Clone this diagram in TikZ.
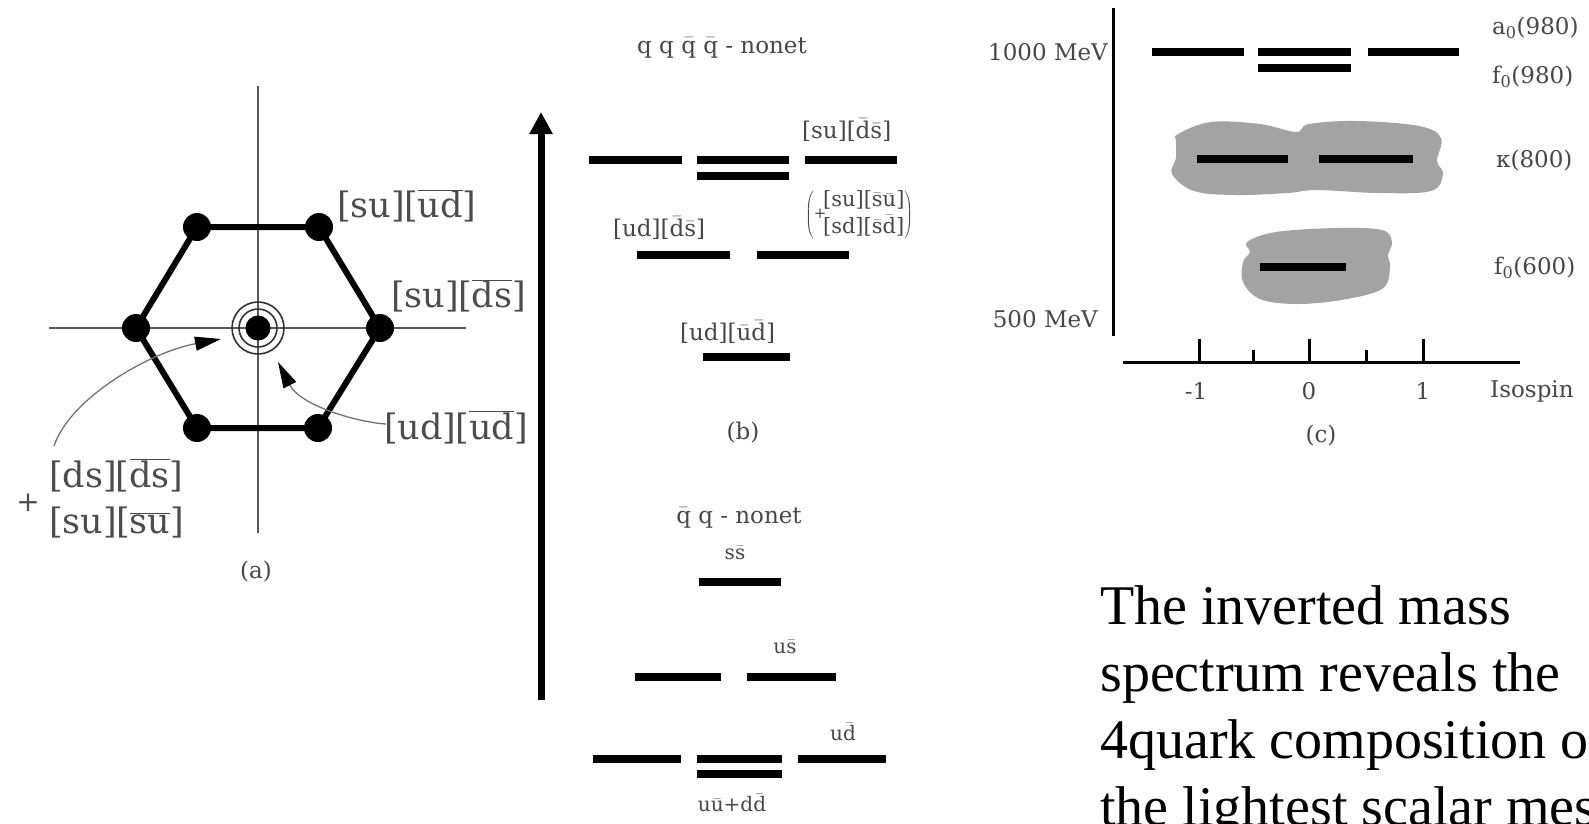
\documentclass[tikz,border=0pt]{standalone}
\usepackage{fontspec}
\setmainfont{DejaVu Serif}
\newfontfamily\tnrfont{Liberation Serif}
\usetikzlibrary{arrows.meta}
\newcommand\barl[1]{\ensuremath{\bar{\mbox{#1}}}}
\newcommand\ovl[1]{\ensuremath{\overline{\mbox{#1}}}}
\begin{document}
\begin{tikzpicture}[x=1pt,y=-1pt,
  axisline/.style={line width=1.8pt, black!65},
  hexline/.style={line width=6pt, black},
  dot/.style={circle, fill=black, minimum size=28pt, inner sep=0pt},
  ring/.style={line width=1.6pt, black!80},
  thinarrow/.style={line width=1.3pt, black!55, -{Triangle[length=26pt,width=14pt,color=black]}},
  biglab/.style={font=\fontsize{35}{38}\selectfont, text=black!70, inner sep=0pt},
  lab/.style={font=\fontsize{23}{26}\selectfont, text=black!72, inner sep=0pt},
  smalllab/.style={font=\fontsize{20}{22}\selectfont, text=black!72, inner sep=0pt},
  lvl/.style={line width=8pt, black},
  blob/.style={fill=black!36, draw=none},
  caxis/.style={line width=3pt, black},
  slide/.style={font=\tnrfont\fontsize{56}{60}\selectfont, text=black, inner sep=0pt, anchor=base west}]
\useasboundingbox (0,0) rectangle (1589,823);

% ---------------- panel (a) ----------------
\coordinate (axT) at (258,86);
\coordinate (axB) at (258,533);
\coordinate (axL) at (49,328);
\coordinate (axR) at (466,328);
\draw[axisline] (axT) -- (axB);
\draw[axisline] (axL) -- (axR);

\node[dot] (v1) at (136,328) {};
\node[dot] (v2) at (197,227) {};
\node[dot] (v3) at (319,227) {};
\node[dot] (v4) at (380,328) {};
\node[dot] (v5) at (318,428) {};
\node[dot] (v6) at (197,428) {};
\draw[hexline] (v1.center) -- (v2.center) -- (v3.center) -- (v4.center) -- (v5.center) -- (v6.center) -- cycle;

\node[circle, fill=black, minimum size=25pt, inner sep=0pt] (ctr) at (258,328) {};
\draw[ring] (ctr.center) circle[radius=19];
\draw[ring] (ctr.center) circle[radius=26];

\node[biglab, anchor=west] (la1) at (337,206) {[su]\kern-1pt[\ovl{ud}]};
\node[biglab, anchor=west] (la2) at (391,296) {[su]\kern-1pt[\ovl{ds}]};
\node[biglab, anchor=west] (la3) at (384,427) {[ud]\kern-1pt[\ovl{ud}]};
\node[biglab, anchor=west] (la5) at (49,475) {[ds]\kern-1pt[\ovl{ds}]};
\node[biglab, anchor=west] (la6) at (49,522) {[su]\kern-1pt[\ovl{su}]};
\node[biglab, font=\fontsize{28}{30}\selectfont] (plus) at (28,503) {+};
\node[lab] (capa) at (256,572) {(a)};

\coordinate (a1s) at (54,446);
\coordinate (tipA) at (221,339);
\draw[thinarrow] (a1s) .. controls (70,398) and (150,352) .. (tipA);
\coordinate (a2s) at (386,424);
\coordinate (tipB) at (278,362);
\draw[thinarrow] (a2s) .. controls (355,422) and (300,405) .. (tipB);

% ---------------- panel (b) ----------------
\coordinate (arB) at (541,700);
\coordinate (arT) at (541,112);
\draw[line width=7pt, -{Triangle[length=22pt,width=22pt]}] (arB) -- (arT);

\node[lab] (qqqq) at (722,48) {q q \barl{q} \barl{q} - nonet};
\draw[lvl] (589,160) -- (682,160);
\draw[lvl] (697,160) -- (789,160);
\draw[lvl] (697,176) -- (789,176);
\draw[lvl] (805,160) -- (897,160);
\node[lab, anchor=west] (lb1) at (802,130) {[su][\barl{d}\barl{s}]};
\node[lab, anchor=west] (lb2) at (613,228) {[ud][\barl{d}\barl{s}]};
\draw[lvl] (637,255) -- (730,255);
\draw[lvl] (757,255) -- (849,255);
\node[lab, anchor=west, font=\fontsize{21}{26}\selectfont] (lb3) at (805,215)
  {$\left(\mbox{\raisebox{0.2ex}{\fontsize{15}{15}\selectfont +}}\!\begin{array}{@{}l@{}}\mbox{[su][\barl{s}\barl{u}]}\\ \mbox{[sd][\barl{s}\barl{d}]}\end{array}\right)$};
\node[lab, anchor=west] (lb4) at (680,332) {[ud][\barl{u}\barl{d}]};
\draw[lvl] (703,357) -- (790,357);
\node[lab] (capb) at (743,433) {(b)};

\node[lab] (qq) at (739,518) {\barl{q} q - nonet};
\node[smalllab] (ss) at (735,553) {s\barl{s}};
\draw[lvl] (699,582) -- (781,582);
\node[smalllab] (us) at (785,647) {u\barl{s}};
\draw[lvl] (635,677) -- (721,677);
\draw[lvl] (747,677) -- (836,677);
\node[smalllab] (ud) at (843,732) {u\barl{d}};
\draw[lvl] (593,759) -- (681,759);
\draw[lvl] (697,759) -- (782,759);
\draw[lvl] (697,774) -- (782,774);
\draw[lvl] (798,759) -- (886,759);
\node[smalllab] (uudd) at (732,803) {u\barl{u}+d\barl{d}};

% ---------------- panel (c) ----------------
\draw[blob] plot[smooth cycle, tension=0.6] coordinates {(1178,134) (1211,122) (1260,124) (1296,132) (1309,124) (1357,121) (1419,126) (1441,138) (1437,161) (1443,174) (1431,191) (1378,193) (1317,190) (1288,193) (1235,195) (1194,191) (1172,174) (1176,158) (1176,141)};
\draw[blob] plot[smooth cycle, tension=0.6] coordinates {(1247,242) (1276,232) (1337,228) (1382,230) (1392,242) (1388,255) (1390,268) (1382,289) (1341,300) (1296,304) (1260,299) (1243,282) (1243,262) (1250,252)};

\coordinate (cvT) at (1113,8);
\coordinate (cvB) at (1113,336);
\draw[caxis] (cvT) -- (cvB);
\coordinate (chL) at (1123,362);
\coordinate (chR) at (1520,362);
\draw[caxis] (chL) -- (chR);
\foreach \tx in {1199,1309,1423} \draw[caxis] (\tx,362) -- (\tx,339);
\foreach \tx in {1253,1366} \draw[caxis] (\tx,362) -- (\tx,350);

\draw[lvl] (1152,52) -- (1244,52);
\draw[lvl] (1258,52) -- (1351,52);
\draw[lvl] (1258,68) -- (1351,68);
\draw[lvl] (1368,52) -- (1459,52);
\draw[lvl] (1197,159) -- (1288,159);
\draw[lvl] (1319,159) -- (1413,159);
\draw[lvl] (1260,267) -- (1346,267);

\node[lab, anchor=east] (m1000) at (1108,52) {1000 MeV};
\node[lab, anchor=east] (m500) at (1098,319) {500 MeV};
\node[lab, anchor=west] (a0) at (1492,28) {a\textsubscript{0}(980)};
\node[lab, anchor=west] (f0a) at (1492,77) {f\textsubscript{0}(980)};
\node[lab, anchor=west] (kap) at (1496,161) {κ(800)};
\node[lab, anchor=west] (f0b) at (1494,268) {f\textsubscript{0}(600)};
\node[lab] (tm1) at (1196,391) {-1};
\node[lab] (t0) at (1309,391) {0};
\node[lab] (tp1) at (1423,391) {1};
\node[lab, anchor=west] (iso) at (1490,391) {Isospin};
\node[lab] (capc) at (1321,436) {(c)};

% ---------------- text ----------------
\node[slide] (t1) at (1100,624) {The inverted mass};
\node[slide] (t2) at (1100,691) {spectrum reveals the};
\node[slide] (t3) at (1100,758) {4quark composition of};
\node[slide] (t4) at (1100,825) {the lightest scalar mesons};
\end{tikzpicture}
\end{document}
